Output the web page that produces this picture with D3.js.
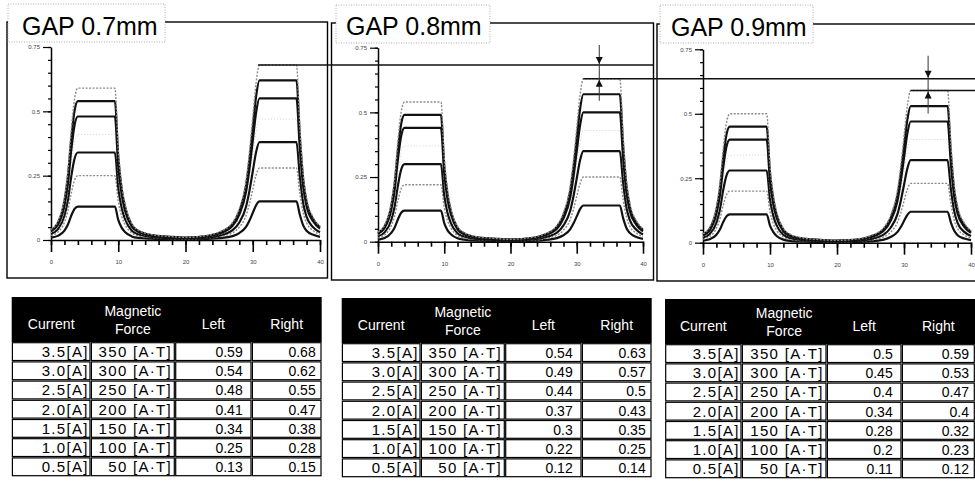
<!DOCTYPE html>
<html lang="en">
<head>
<meta charset="utf-8">
<title>GAP magnetic force</title>
<script src="https://d3js.org/d3.v7.min.js"></script>
<style>
  body { margin: 0; background: #fff; }
  svg { display: block; font-family: "Liberation Sans", Arial, sans-serif; }
  .axis path, .axis line { stroke: #000; }
  .axis text { font-size: 6px; fill: #444; font-family: "Liberation Sans", Arial, sans-serif; }
</style>
</head>
<body>
<svg width="975" height="483"></svg>
<script>
// sample positions along the x axis (same for every curve)
var xPos = [0, 1, 2, 2.5, 3, 3.5, 4, 9.5, 10, 10.5, 11, 12, 13, 15, 17.5, 20, 22.5, 25, 27, 28, 29, 29.5, 30, 30.5, 31, 36.5, 37, 37.5, 38, 39, 40];

var currents = ["3.5[A]", "3.0[A]", "2.5[A]", "2.0[A]", "1.5[A]", "1.0[A]", "0.5[A]"];
var forces = ["350 [A·T]", "300 [A·T]", "250 [A·T]", "200 [A·T]", "150 [A·T]", "100 [A·T]", "50 [A·T]"];

// GAP 0.7mm - one row per current, 3.5A first
var gap07 = [
  [.041,.071,.165,.266,.425,.549,.59,.59,.354,.218,.142,.065,.038,.021,.014,.010,.015,.031,.068,.122,.231,.34,.476,.612,.68,.68,.442,.258,.163,.088,.054],
  [.038,.065,.151,.243,.389,.502,.54,.54,.324,.2,.13,.059,.035,.019,.013,.009,.013,.028,.062,.112,.211,.31,.434,.558,.62,.62,.403,.236,.149,.081,.05],
  [.034,.058,.134,.216,.346,.446,.48,.48,.288,.178,.115,.053,.031,.017,.011,.008,.012,.025,.055,.099,.187,.275,.385,.495,.55,.55,.358,.209,.132,.072,.044],
  [.029,.049,.115,.185,.295,.381,.41,.41,.246,.152,.098,.045,.027,.014,.01,.007,.01,.021,.047,.085,.16,.235,.329,.423,.47,.47,.306,.179,.113,.061,.038],
  [.024,.041,.095,.153,.245,.316,.34,.34,.204,.126,.082,.037,.022,.012,.008,.006,.008,.017,.038,.068,.129,.19,.266,.342,.38,.38,.247,.144,.091,.049,.03],
  [.018,.03,.07,.113,.18,.233,.25,.25,.15,.093,.06,.028,.016,.009,.006,.004,.006,.013,.028,.05,.095,.14,.196,.252,.28,.28,.182,.106,.067,.036,.022],
  [.009,.016,.036,.059,.094,.121,.13,.13,.078,.048,.031,.014,.008,.005,.003,.002,.003,.007,.015,.027,.051,.075,.105,.135,.15,.15,.098,.057,.036,.02,.012]
];

// GAP 0.8mm
var gap08 = [
  [.038,.065,.151,.243,.389,.502,.54,.54,.324,.2,.13,.059,.035,.019,.013,.009,.014,.028,.063,.113,.214,.315,.441,.567,.63,.63,.41,.239,.151,.082,.05],
  [.034,.059,.137,.221,.353,.456,.49,.49,.294,.181,.118,.054,.032,.017,.012,.008,.012,.026,.057,.103,.194,.285,.399,.513,.57,.57,.371,.217,.137,.074,.046],
  [.031,.053,.123,.198,.317,.409,.44,.44,.264,.163,.106,.048,.029,.015,.01,.008,.011,.023,.05,.09,.17,.25,.35,.45,.5,.5,.325,.19,.12,.065,.04],
  [.026,.044,.104,.167,.266,.344,.37,.37,.222,.137,.089,.041,.024,.013,.009,.006,.009,.019,.043,.077,.146,.215,.301,.387,.43,.43,.28,.163,.103,.056,.034],
  [.021,.036,.084,.135,.216,.279,.3,.3,.18,.111,.072,.033,.02,.011,.007,.005,.008,.016,.035,.063,.119,.175,.245,.315,.35,.35,.228,.133,.084,.046,.028],
  [.015,.026,.062,.099,.158,.205,.22,.22,.132,.081,.053,.024,.014,.008,.005,.004,.005,.011,.025,.045,.085,.125,.175,.225,.25,.25,.163,.095,.06,.033,.02],
  [.008,.014,.034,.054,.086,.112,.12,.12,.072,.044,.029,.013,.008,.004,.003,.002,.003,.006,.014,.025,.048,.07,.098,.126,.14,.14,.091,.053,.034,.018,.011]
];

// GAP 0.9mm
var gap09 = [
  [.035,.06,.14,.225,.36,.465,.5,.5,.3,.185,.12,.055,.033,.018,.012,.009,.013,.027,.059,.106,.201,.295,.413,.531,.59,.59,.384,.224,.142,.077,.047],
  [.032,.054,.126,.203,.324,.419,.45,.45,.27,.167,.108,.05,.029,.016,.011,.008,.011,.024,.053,.095,.18,.265,.371,.477,.53,.53,.345,.201,.127,.069,.042],
  [.028,.048,.112,.18,.288,.372,.4,.4,.24,.148,.096,.044,.026,.014,.01,.007,.01,.021,.047,.085,.16,.235,.329,.423,.47,.47,.306,.179,.113,.061,.038],
  [.024,.041,.095,.153,.245,.316,.34,.34,.204,.126,.082,.037,.022,.012,.008,.006,.009,.018,.04,.072,.136,.2,.28,.36,.4,.4,.26,.152,.096,.052,.032],
  [.02,.034,.078,.126,.202,.26,.28,.28,.168,.104,.067,.031,.018,.01,.007,.005,.007,.014,.032,.058,.109,.16,.224,.288,.32,.32,.208,.122,.077,.042,.026],
  [.014,.024,.056,.09,.144,.186,.2,.2,.12,.074,.048,.022,.013,.007,.005,.003,.005,.01,.023,.041,.078,.115,.161,.207,.23,.23,.15,.087,.055,.03,.018],
  [.008,.013,.031,.05,.079,.102,.11,.11,.066,.041,.026,.012,.007,.004,.003,.002,.003,.005,.012,.022,.041,.06,.084,.108,.12,.12,.078,.046,.029,.016,.01]
];

// table values (peak force, left / right)
var left07 = ["0.59", "0.54", "0.48", "0.41", "0.34", "0.25", "0.13"];
var right07 = ["0.68", "0.62", "0.55", "0.47", "0.38", "0.28", "0.15"];
var left08 = ["0.54", "0.49", "0.44", "0.37", "0.3", "0.22", "0.12"];
var right08 = ["0.63", "0.57", "0.5", "0.43", "0.35", "0.25", "0.14"];
var left09 = ["0.5", "0.45", "0.4", "0.34", "0.28", "0.2", "0.11"];
var right09 = ["0.59", "0.53", "0.47", "0.4", "0.32", "0.23", "0.12"];

var yLabelTicks = [0, 0.25, 0.5, 0.75];
var xLabelTicks = [0, 10, 20, 30, 40];

var svg = d3.select("svg");

// line look per current (3.5A first)
var lineStyle = [
  {stroke: "#8a8a8a", width: 1.4, dash: "2,1.5"},
  {stroke: "#111", width: 2.2, dash: null},
  {stroke: "#111", width: 2.2, dash: null},
  {stroke: "#d0d0d0", width: 1, dash: "1,2"},
  {stroke: "#111", width: 2.2, dash: null},
  {stroke: "#8a8a8a", width: 1.4, dash: "2,1.5"},
  {stroke: "#111", width: 2.2, dash: null}
];

var panels = [
  {title: "GAP 0.7mm", data: gap07, frame: [7, 22, 327.5, 278], box: [8, 4, 165, 42], tx: 22, ty: 35, xr: [51, 320], yr: [240, 47]},
  {title: "GAP 0.8mm", data: gap08, frame: [331.5, 23, 653.5, 280], box: [336, 5, 490, 43], tx: 346, ty: 34.5, xr: [378, 643], yr: [241.7, 47.7]},
  {title: "GAP 0.9mm", data: gap09, frame: [657, 24, 980, 281], box: [660, 5, 813, 43], tx: 671, ty: 36, xr: [703, 971], yr: [242.7, 49.3]}
];

panels.forEach(function(p) {
  var x = d3.scaleLinear().domain([0, 40]).range(p.xr);
  var y = d3.scaleLinear().domain([0, 0.75]).range(p.yr);
  p.x = x; p.y = y;

  // marco
  svg.append("rect")
    .attr("x", p.frame[0]).attr("y", p.frame[1])
    .attr("width", p.frame[2] - p.frame[0]).attr("height", p.frame[3] - p.frame[1])
    .attr("fill", "none").attr("stroke", "#000").attr("stroke-width", 1.4);

  // caja del titulo
  svg.append("rect")
    .attr("x", p.box[0]).attr("y", p.box[1])
    .attr("width", p.box[2] - p.box[0]).attr("height", p.box[3] - p.box[1])
    .attr("fill", "#fff").attr("stroke", "#999").attr("stroke-width", 0.8)
    .attr("stroke-dasharray", "1,1.5");
  svg.append("text")
    .attr("x", p.tx).attr("y", p.ty)
    .attr("font-size", 25).attr("fill", "#000")
    .text(p.title);

  // eje y
  var gy = svg.append("g").attr("class", "axis")
    .attr("transform", "translate(" + p.xr[0] + ",0)");
  gy.call(d3.axisLeft(y).tickValues(d3.range(0, 0.76, 0.05)).tickSize(3).tickSizeOuter(0).tickFormat(""));
  gy.append("g").call(d3.axisLeft(y).tickValues(yLabelTicks).tickSize(8).tickPadding(3).tickFormat(function(d) { return d; }))
    .select(".domain").remove();
  gy.selectAll("path").attr("stroke-width", 1.5);
  gy.selectAll("line").attr("stroke-width", 1.2);

  // eje x
  var gx = svg.append("g").attr("class", "axis")
    .attr("transform", "translate(0," + p.yr[0] + ")");
  gx.call(d3.axisBottom(x).tickValues(d3.range(0, 41, 2)).tickSize(5).tickSizeOuter(0).tickFormat(""));
  gx.append("g").call(d3.axisBottom(x).tickValues(xLabelTicks).tickSize(12).tickPadding(8).tickFormat(function(d) { return d; }))
    .select(".domain").remove();
  gx.selectAll("path").attr("stroke-width", 1.5);
  gx.selectAll("line").attr("stroke-width", 1.6);

  // curvas (la mas baja primero)
  var line = d3.line()
    .x(function(d, i) { return x(xPos[i]); })
    .y(function(d) { return y(d); })
    .curve(d3.curveMonotoneX);

  for (var k = p.data.length - 1; k >= 0; k--) {
    var st = lineStyle[k];
    svg.append("path")
      .datum(p.data[k])
      .attr("d", line)
      .attr("fill", "none")
      .attr("stroke", st.stroke)
      .attr("stroke-width", st.width)
      .attr("stroke-dasharray", st.dash)
      .attr("stroke-linejoin", "round");
  }
});

// lineas de comparacion entre paneles
var p1 = panels[0], p2 = panels[1], p3 = panels[2];
var yA = p1.y(+right07[0]), yB = p2.y(+right08[0]), yC = p3.y(+right09[0]);
function hline(x1, x2, yy) {
  svg.append("line").attr("x1", x1).attr("x2", x2).attr("y1", yy).attr("y2", yy)
    .attr("stroke", "#111").attr("stroke-width", 1.6);
}
hline(p1.x(30.8), p2.frame[2], yA);
hline(p2.x(31), 975, yB);
hline(p3.x(31), 975, yC);

// flechas
function arrows(xx, yTop, yBot, top, bot) {
  svg.append("line").attr("x1", xx).attr("x2", xx).attr("y1", yTop).attr("y2", yBot)
    .attr("stroke", "#333").attr("stroke-width", 1);
  svg.append("path").attr("d", "M" + (xx - 3.5) + "," + (top - 8) + "L" + (xx + 3.5) + "," + (top - 8) + "L" + xx + "," + (top - 1) + "Z")
    .attr("fill", "#111");
  svg.append("path").attr("d", "M" + (xx - 3.5) + "," + (bot + 8) + "L" + (xx + 3.5) + "," + (bot + 8) + "L" + xx + "," + (bot + 1) + "Z")
    .attr("fill", "#111");
}
arrows(p2.x(33.4), yA - 20, yB + 22, yA, yB);
arrows(p3.x(33.6), yB - 23, yC + 23, yB, yC);

// tablas
var tables = [
  {cols: [11.7, 90.7, 175, 251.7, 321.7], top: 297, left: left07, right: right07},
  {cols: [341.7, 420.7, 505, 581.7, 651.7], top: 298, left: left08, right: right08},
  {cols: [665, 741.7, 826.7, 901.7, 975], top: 299, left: left09, right: right09}
];
var headH = 45, rowH = 19.2, pads = [2, 3, 9, 6];

tables.forEach(function(t) {
  var c = t.cols;
  svg.append("rect").attr("x", c[0]).attr("y", t.top)
    .attr("width", c[4] - c[0]).attr("height", headH).attr("fill", "#000");
  var head = svg.append("g").attr("fill", "#fff").attr("font-size", 14).attr("text-anchor", "middle");
  head.append("text").attr("x", (c[0] + c[1]) / 2).attr("y", t.top + 32).text("Current");
  head.append("text").attr("x", (c[1] + c[2]) / 2).attr("y", t.top + 19).text("Magnetic");
  head.append("text").attr("x", (c[1] + c[2]) / 2).attr("y", t.top + 37).text("Force");
  head.append("text").attr("x", (c[2] + c[3]) / 2).attr("y", t.top + 32).text("Left");
  head.append("text").attr("x", (c[3] + c[4]) / 2).attr("y", t.top + 32).text("Right");

  var rows = currents.map(function(cur, i) {
    return [cur, forces[i], t.left[i], t.right[i]];
  });
  rows.forEach(function(r, i) {
    var ry = t.top + headH + i * rowH;
    r.forEach(function(val, j) {
      svg.append("rect").attr("x", c[j] + 0.7).attr("y", ry + 0.7)
        .attr("width", c[j + 1] - c[j] - 1.4).attr("height", rowH - 1.4)
        .attr("fill", "#fff").attr("stroke", "#000").attr("stroke-width", 1.2);
      var tx = svg.append("text").attr("x", c[j + 1] - pads[j]).attr("y", ry + 15)
        .attr("text-anchor", "end").attr("fill", "#000")
        .text(val);
      if (j < 2) tx.attr("font-size", 15).attr("letter-spacing", 1.3);
      else tx.attr("font-size", 14);
    });
  });
});
</script>
</body>
</html>
